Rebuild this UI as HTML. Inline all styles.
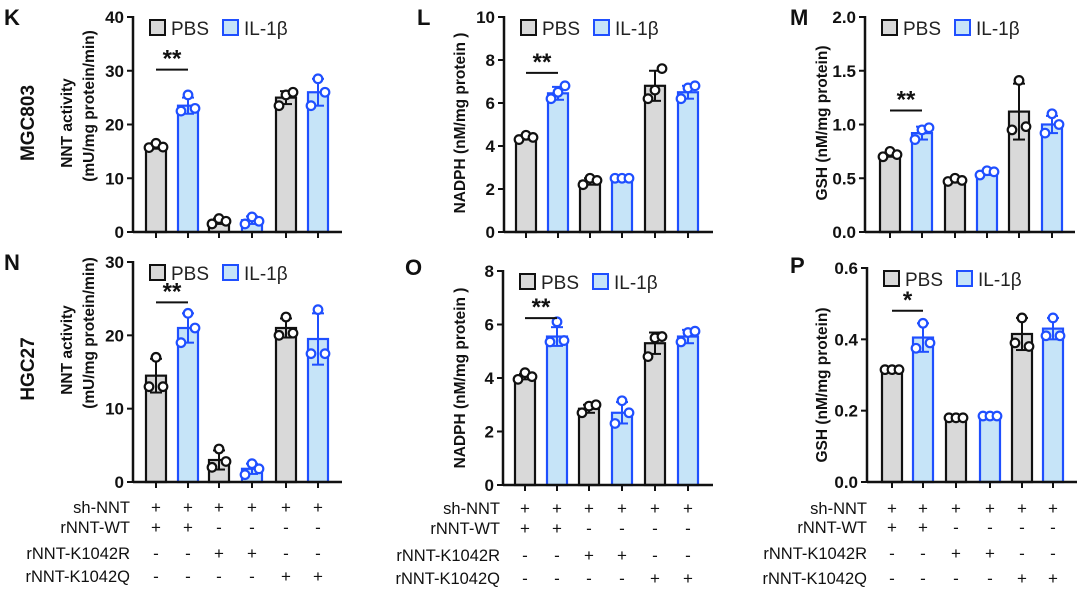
<!DOCTYPE html>
<html><head><meta charset="utf-8">
<style>
html,body{margin:0;padding:0;background:#fff;}
svg{display:block;font-family:"Liberation Sans",Arial,sans-serif;}
</style></head>
<body>
<svg id="fig" width="1080" height="598" viewBox="0 0 1080 598" xmlns="http://www.w3.org/2000/svg"></svg>
<script>
// ---- data ----
const kMeans=[16,23.5,2,2.2,25,26];
const kPts=[[15.7,16.5,15.8],[22.5,25.5,23],[1.5,2.5,2],[1.5,2.8,2],[23.5,25.5,26],[23.5,28.5,26]];
const kSd=[0.5,1.5,0.5,0.7,1.2,2.5];
const lMeans=[4.4,6.45,2.35,2.5,6.8,6.5];
const lPts=[[4.3,4.5,4.4],[6.2,6.5,6.8],[2.2,2.5,2.4],[2.5,2.5,2.5],[6.2,6.6,7.6],[6.2,6.7,6.8]];
const lSd=[0.1,0.3,0.15,0.03,0.7,0.3];
const mMeans=[0.72,0.92,0.48,0.55,1.12,1.0];
const mPts=[[0.7,0.75,0.72],[0.86,0.95,0.97],[0.47,0.5,0.48],[0.53,0.57,0.56],[0.95,1.41,0.98],[0.92,1.1,1.0]];
const mSd=[0.02,0.06,0.02,0.02,0.26,0.08];
const nMeans=[14.5,21,3,1.8,21,19.5];
const nPts=[[13,17,13],[19,23,21],[2,4.5,2.8],[1,2.5,1.8],[20,22.5,20.3],[17.5,23.5,17.5]];
const nSd=[2.3,2,1.3,0.7,1.3,3.5];
const oMeans=[4.05,5.55,2.85,2.7,5.3,5.55];
const oPts=[[3.95,4.2,4.05],[5.35,6.1,5.4],[2.7,2.95,3.0],[2.3,3.15,2.7],[4.8,5.5,5.55],[5.35,5.7,5.75]];
const oSd=[0.1,0.35,0.15,0.4,0.4,0.25];
const pMeans=[0.315,0.405,0.18,0.185,0.415,0.43];
const pPts=[[0.315,0.315,0.315],[0.375,0.445,0.39],[0.18,0.18,0.18],[0.185,0.185,0.185],[0.39,0.46,0.38],[0.41,0.46,0.41]];
const pSd=[0,0.04,0,0,0.045,0.03];
const kTicks=["0","10","20","30","40"];
const lTicks=["0","2","4","6","8","10"];
const mTicks=["0.0","0.5","1.0","1.5","2.0"];
const nTicks=["0","10","20","30"];
const oTicks=["0","2","4","6","8"];
const pTicks=["0.0","0.2","0.4","0.6"];
const rowLabels=["sh-NNT","rNNT-WT","rNNT-K1042R","rNNT-K1042Q"];
const rowSigns=[["+","+","+","+","+","+"],["+","+","-","-","-","-"],["-","-","+","+","-","-"],["-","-","-","-","+","+"]];

const NS="http://www.w3.org/2000/svg";
const svg=document.getElementById('fig');
function mk(tag,attrs,parent,text){const e=document.createElementNS(NS,tag);for(const k in attrs)e.setAttribute(k,attrs[k]);if(text!==undefined)e.textContent=text;(parent||svg).appendChild(e);return e;}

function panel(o){
  const g=mk('g',{});
  
  
  const ymax=parseFloat(o.ticks[o.ticks.length-1]);
  const y=v=>o.bot-(v/ymax)*(o.bot-o.top);
  const bw=20;
  o.means.forEach((m,i)=>{
    const blue=i%2===1;
    const cx=o.xs[i];
    const r=mk('rect',{x:cx-bw/2,y:y(m),width:bw,height:o.bot-y(m),fill:blue?'#c6e4f8':'#d9d9d9',stroke:blue?'#1f4fff':'#111','stroke-width':2.2},g);
    
    
    const col=blue?'#1f4fff':'#111';
    const sd=o.sd[i];
    if(sd>0){
      mk('line',{x1:cx,x2:cx,y1:y(m+sd),y2:y(m-sd),stroke:col,'stroke-width':2},g);
      mk('line',{x1:cx-6,x2:cx+6,y1:y(m+sd),y2:y(m+sd),stroke:col,'stroke-width':2},g);
      mk('line',{x1:cx-6,x2:cx+6,y1:y(m-sd),y2:y(m-sd),stroke:col,'stroke-width':2},g);
    }
    o.pts[i].forEach((p,j)=>{
      const c=mk('circle',{cx:cx+(j-1)*7,cy:y(p),r:4.3,fill:'#fff',stroke:col,'stroke-width':2.2},g);
      
      
    });
    mk('line',{x1:cx,x2:cx,y1:o.bot,y2:o.bot+6,stroke:'#111','stroke-width':2},g);
  });
  const ya=mk('line',{x1:o.ax,x2:o.ax,y1:o.top-1,y2:o.bot+1,stroke:'#111','stroke-width':2.5},g);
  
  
  const xa=mk('line',{x1:o.ax,x2:o.xend,y1:o.bot,y2:o.bot,stroke:'#111','stroke-width':2.5},g);
  
  
  o.ticks.forEach(t=>{
    const v=parseFloat(t);
    mk('line',{x1:o.ax-6,x2:o.ax,y1:y(v),y2:y(v),stroke:'#111','stroke-width':2},g);
    const tl=mk('text',{x:o.ax-9,y:y(v)+6,'text-anchor':'end','font-size':17,'font-weight':'bold',fill:'#111'},g,t);
    
    
  });
  o.ytitle.forEach((line,k)=>{
    const tx=o.ytx+k*22;
    const ty=o.yty-(k>0?17:0);
    const t=mk('text',{x:tx,y:ty,'text-anchor':'middle','font-size':15.5,'font-weight':'bold',fill:'#111',transform:`rotate(-90 ${tx} ${ty})`},g,line);
    
    
  });
  const pl=mk('text',{x:o.lx,y:o.ly,'font-size':22,'font-weight':'bold',fill:'#111'},g,o.id);
  
  
  const lg=mk('g',{},g);
  
  
  mk('rect',{x:o.ax+17,y:o.top+3,width:15,height:15,fill:'#d9d9d9',stroke:'#111','stroke-width':2},lg);
  mk('text',{x:o.ax+38,y:o.top+18,'font-size':19,fill:'#222'},lg,'PBS');
  mk('rect',{x:o.ax+90,y:o.top+3,width:15,height:15,fill:'#c6e4f8',stroke:'#1f4fff','stroke-width':2},lg);
  mk('text',{x:o.ax+111,y:o.top+18,'font-size':19,fill:'#222'},lg,'IL-1β');
  const sy=y(o.sig);
  mk('line',{x1:o.xs[0],x2:o.xs[1],y1:sy,y2:sy,stroke:'#111','stroke-width':2},g);
  const st=mk('text',{x:(o.xs[0]+o.xs[1])/2,y:sy-3,'text-anchor':'middle','font-size':24,'font-weight':'bold',fill:'#111'},g,o.star);
  
  
  if(o.rows){
    const tg=mk('g',{},g);
    
    
    rowLabels.forEach((lab,r)=>{
      mk('text',{x:o.rx,y:o.rows[r]+6,'text-anchor':'end','font-size':16.5,fill:'#111'},tg,lab);
      rowSigns[r].forEach((s,i)=>{
        mk('text',{x:o.xs[i],y:o.rows[r]+6,'text-anchor':'middle','font-size':17,fill:'#111'},tg,s);
      });
    });
  }
}
const xsK=[156,188,219,252,286,318];
panel({id:'K',ax:133,top:17,bot:232,xend:342,xs:xsK,means:kMeans,pts:kPts,sd:kSd,ticks:kTicks,ytitle:['NNT activity','(mU/mg protein/min)'],ytx:72,yty:123,lx:4,ly:25,sig:30.2,star:'**'});
panel({id:'L',ax:504,top:17,bot:232,xend:713,xs:[526,558,590,622,655,688],means:lMeans,pts:lPts,sd:lSd,ticks:lTicks,ytitle:['NADPH (nM/mg protein )'],ytx:465,yty:123,lx:417,ly:25,sig:7.4,star:'**'});
panel({id:'M',ax:865,top:17,bot:232,xend:1075,xs:[890,922,955,987,1019,1052],means:mMeans,pts:mPts,sd:mSd,ticks:mTicks,ytitle:['GSH (nM/mg protein)'],ytx:827,yty:123,lx:790,ly:25,sig:1.13,star:'**'});
panel({id:'N',ax:133,top:262,bot:482,xend:342,xs:xsK,means:nMeans,pts:nPts,sd:nSd,ticks:nTicks,ytitle:['NNT activity','(mU/mg protein/min)'],ytx:72,yty:350,lx:4,ly:270,sig:24.5,star:'**',rows:[507,527,553,576],rx:130});
panel({id:'O',ax:503,top:271,bot:485,xend:713,xs:[525,557,589,622,655,688],means:oMeans,pts:oPts,sd:oSd,ticks:oTicks,ytitle:['NADPH (nM/mg protein )'],ytx:465,yty:378,lx:405,ly:275,sig:6.24,star:'**',rows:[508,528,555,578],rx:500});
panel({id:'P',ax:867,top:268,bot:482,xend:1077,xs:[892,923,956,990,1022,1053],means:pMeans,pts:pPts,sd:pSd,ticks:pTicks,ytitle:['GSH (nM/mg protein)'],ytx:827,yty:385,lx:790,ly:273,sig:0.48,star:'*',rows:[508,527,553,578],rx:867});
const r1=mk('text',{x:0,y:0,'text-anchor':'middle','font-size':19,'font-weight':'bold',fill:'#111',transform:'translate(34 123) rotate(-90)'},svg,'MGC803');


const r2=mk('text',{x:0,y:0,'text-anchor':'middle','font-size':19,'font-weight':'bold',fill:'#111',transform:'translate(34 369) rotate(-90)'},svg,'HGC27');


</script>
</body></html>
